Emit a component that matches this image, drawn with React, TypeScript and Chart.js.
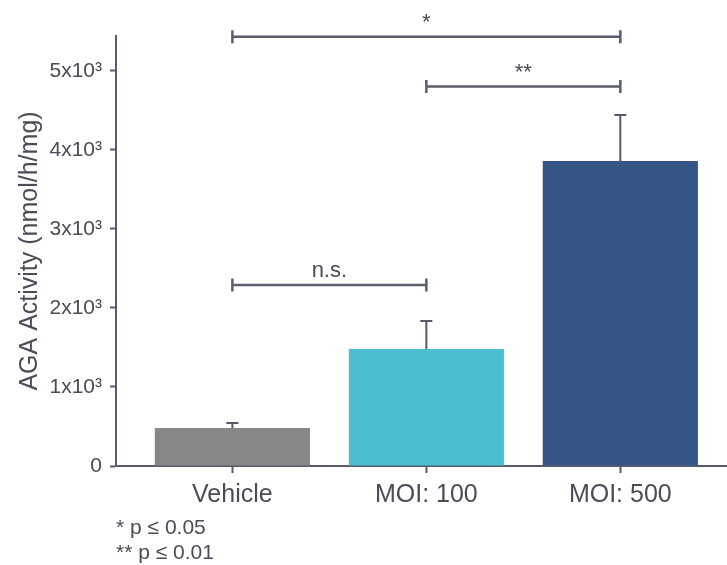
import React, { useEffect, useRef } from "react";
import { Chart, registerables } from "chart.js";

Chart.register(...registerables);

const categories = ["Vehicle", "MOI: 100", "MOI: 500"];
const means = [480, 1480, 3860];
const sem = [65, 355, 580];
const barColors = ["#878787", "#4bbfcf", "#355586"];

const yTickValues = [0, 1000, 2000, 3000, 4000, 5000];
const yTickLabels = ["0", "1x10³", "2x10³", "3x10³", "4x10³", "5x10³"];

const bracketFrom = [0, 1, 0];
const bracketTo = [2, 2, 1];
const bracketLevel = [5430, 4800, 2290];
const bracketLabels = ["*", "**", "n.s."];

const footnotes = ["* p ≤ 0.05", "** p ≤ 0.01"];

const FONT = "'Liberation Sans', Arial, sans-serif";
const TEXT = "#4a4c58";
const AXIS = "#585b6a";

export default function App() {
  const ref = useRef<HTMLCanvasElement | null>(null);

  useEffect(() => {
    if (!ref.current) return;

    const overlay = {
      id: "overlay",
      afterDatasetsDraw(chart: any) {
        const ctx = chart.ctx;
        const xs = chart.scales.x;
        const ys = chart.scales.y;
        ctx.save();
        // error bars (upper only)
        ctx.strokeStyle = "#565968";
        ctx.lineWidth = 2;
        means.forEach((m, i) => {
          const x = xs.getPixelForValue(i);
          const y0 = ys.getPixelForValue(m);
          const y1 = ys.getPixelForValue(m + sem[i]);
          ctx.beginPath();
          ctx.moveTo(x, y0);
          ctx.lineTo(x, y1);
          ctx.moveTo(x - 6, y1);
          ctx.lineTo(x + 6, y1);
          ctx.stroke();
        });
        // significance brackets
        ctx.strokeStyle = "#5a5d6c";
        ctx.lineWidth = 2.5;
        ctx.fillStyle = TEXT;
        ctx.font = `22px ${FONT}`;
        ctx.textAlign = "center";
        ctx.textBaseline = "alphabetic";
        bracketLabels.forEach((lab, i) => {
          const xa = xs.getPixelForValue(bracketFrom[i]);
          const xb = xs.getPixelForValue(bracketTo[i]);
          const y = ys.getPixelForValue(bracketLevel[i]);
          ctx.beginPath();
          ctx.moveTo(xa, y);
          ctx.lineTo(xb, y);
          ctx.moveTo(xa, y - 6.5);
          ctx.lineTo(xa, y + 6.5);
          ctx.moveTo(xb, y - 6.5);
          ctx.lineTo(xb, y + 6.5);
          ctx.stroke();
          ctx.fillText(lab, (xa + xb) / 2, y - 8);
        });
        ctx.restore();
      },
      afterDraw(chart: any) {
        const ctx = chart.ctx;
        ctx.save();
        ctx.fillStyle = TEXT;
        ctx.font = `21px ${FONT}`;
        ctx.textAlign = "left";
        ctx.textBaseline = "middle";
        footnotes.forEach((t, i) => {
          ctx.fillText(t, chart.chartArea.left, 528 + i * 25);
        });
        ctx.restore();
      },
    };

    const chart = new Chart(ref.current, {
      type: "bar",
      data: {
        datasets: [
          {
            data: means.map((v, i) => ({ x: i, y: v })),
            backgroundColor: barColors,
            borderWidth: 0,
            barPercentage: 0.8,
            categoryPercentage: 1.0,
          },
        ],
      },
      options: {
        responsive: false,
        animation: false,
        layout: { padding: { top: 36, right: 0, left: 0, bottom: 0 } },
        plugins: {
          legend: { display: false },
          tooltip: { enabled: false },
        },
        scales: {
          x: {
            type: "linear",
            min: -0.6,
            max: 2.55,
            offset: false,
            afterBuildTicks: (s: any) => {
              s.ticks = categories.map((_, i) => ({ value: i }));
            },
            afterFit: (s: any) => {
              s.height = 99;
            },
            grid: {
              offset: false,
              drawOnChartArea: false,
              drawTicks: true,
              tickLength: 7,
              tickWidth: 2,
              tickColor: AXIS,
            },
            border: { display: true, color: AXIS, width: 2 },
            ticks: {
              autoSkip: false,
              maxRotation: 0,
              padding: 7,
              color: TEXT,
              font: { family: FONT, size: 25 },
              callback: (v: any) => categories[Number(v)] ?? "",
            },
          },
          y: {
            min: 0,
            max: 5440,
            afterBuildTicks: (s: any) => {
              s.ticks = yTickValues.map((v) => ({ value: v }));
            },
            afterFit: (s: any) => {
              s.width = 116;
            },
            grid: {
              drawOnChartArea: false,
              drawTicks: true,
              tickLength: 6,
              tickWidth: 2,
              tickColor: AXIS,
            },
            border: { display: true, color: AXIS, width: 2 },
            ticks: {
              padding: 8,
              color: TEXT,
              font: { family: FONT, size: 21 },
              callback: (v: any) => {
                const i = yTickValues.indexOf(Number(v));
                return i >= 0 ? yTickLabels[i] : "";
              },
            },
            title: {
              display: true,
              text: "AGA Activity (nmol/h/mg)",
              color: TEXT,
              font: { family: FONT, size: 25 },
              padding: { top: 15, bottom: 0 },
            },
          },
        },
      },
      plugins: [overlay],
    });

    return () => chart.destroy();
  }, []);

  return (
    <div style={{ position: "absolute", left: 0, top: 0, width: 727, height: 565, background: "#fff" }}>
      <canvas ref={ref} width={727} height={565} />
    </div>
  );
}
